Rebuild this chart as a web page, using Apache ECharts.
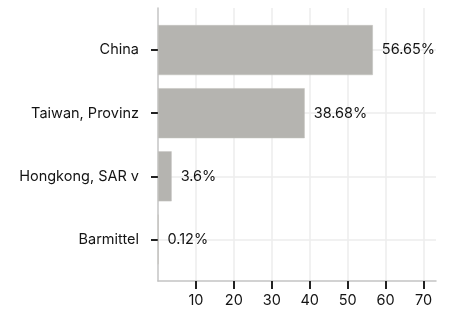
<!DOCTYPE html>
<html>
<head>
<meta charset="utf-8">
<script src="https://cdn.jsdelivr.net/npm/echarts@6/dist/echarts.min.js"></script>
<style>
  html, body { margin: 0; padding: 0; background: #fff; }
  #chart { width: 451px; height: 313px; }
</style>
</head>
<body>
<div id="chart"></div>
<script>
// categories and shares (percent)
const categories = ['China', 'Taiwan, Provinz', 'Hongkong, SAR v', 'Barmittel']
const shares = [56.65, 38.68, 3.6, 0.12]
const xTicks = [10, 20, 30, 40, 50, 60, 70]

const textColor = '#141414'
const font = 'Inter'
const fontSize = 14.5

const chart = echarts.init(document.getElementById('chart'))

const option = {
  backgroundColor: '#fff',
  animation: false,
  grid: [
    // frame grid: axis lines, x ticks, vertical grid lines
    { left: 158, right: 15, top: 8, bottom: 32, outerBoundsMode: 'none' },
    // bar grid: categories sit a bit inside the frame
    { left: 158, right: 15, top: 18.5, bottom: 42, outerBoundsMode: 'none' }
  ],
  xAxis: [
    {
      gridIndex: 0,
      type: 'value',
      min: 0,
      max: 73.3,
      interval: 10,
      axisLine: { show: true, lineStyle: { color: '#c4c4c4', width: 1.5 } },
      axisTick: { show: true, customValues: xTicks, length: 8, lineStyle: { color: '#222', width: 2 } },
      axisLabel: {
        customValues: xTicks,
        margin: 12,
        color: textColor,
        fontFamily: font,
        fontSize: fontSize
      },
      splitLine: { show: true, lineStyle: { color: '#ececec', width: 1.5 } }
    },
    {
      gridIndex: 1,
      type: 'value',
      min: 0,
      max: 73.3,
      show: false
    }
  ],
  yAxis: [
    {
      gridIndex: 0,
      type: 'value',
      min: 0,
      max: 1,
      axisLine: { show: true, lineStyle: { color: '#c4c4c4', width: 1.5 } },
      axisTick: { show: false },
      axisLabel: { show: false },
      splitLine: { show: false }
    },
    {
      gridIndex: 1,
      type: 'category',
      inverse: true,
      data: categories,
      axisLine: { show: false },
      axisTick: { show: true, alignWithLabel: true, length: 7, lineStyle: { color: '#222', width: 2 } },
      axisLabel: { margin: 19, color: textColor, fontFamily: font, fontSize: fontSize },
      splitLine: { show: true, alignWithLabel: true, lineStyle: { color: '#ececec', width: 1.5 } }
    }
  ],
  series: [
    {
      type: 'bar',
      xAxisIndex: 1,
      yAxisIndex: 1,
      data: shares,
      barWidth: 50,
      itemStyle: { color: '#b5b4b0', borderColor: '#c2c1bd', borderWidth: 0.5 },
      label: {
        show: true,
        position: 'right',
        distance: 9,
        color: textColor,
        fontFamily: font,
        fontSize: fontSize,
        formatter: (p) => p.value + '%'
      }
    }
  ]
}

chart.setOption(option)
</script>
</body>
</html>
